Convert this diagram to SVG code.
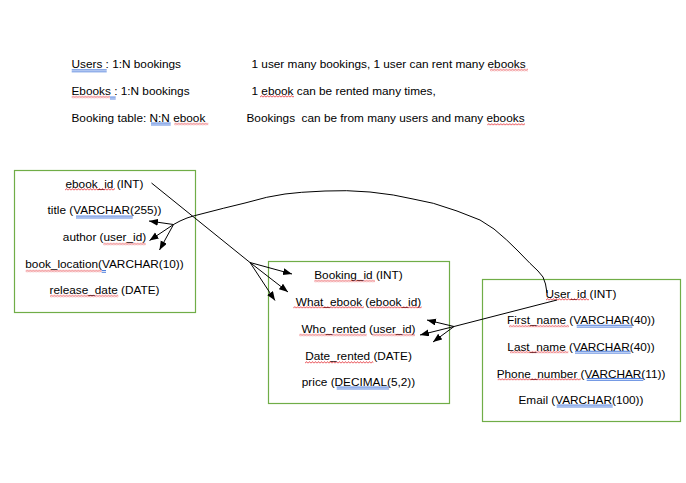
<svg xmlns="http://www.w3.org/2000/svg" width="686" height="483" viewBox="0 0 686 483">
<style>
text{font-family:"Liberation Sans",Arial,sans-serif;font-size:11.8px;fill:#000}
.c{text-anchor:middle}
.box{fill:none;stroke:#70AD47;stroke-width:1.2}
.ln{fill:none;stroke:#000;stroke-width:1}
.ar{marker-end:url(#ah)}
.w{fill:url(#wv)}
.d{fill:url(#db)}
</style>
<defs>
<marker id="ah" markerUnits="userSpaceOnUse" markerWidth="10" markerHeight="8" refX="9" refY="3.5" orient="auto">
<path d="M0,0 L9,3.5 L0,7 Z" fill="#000"/>
</marker>
<pattern id="wv" patternUnits="userSpaceOnUse" width="3" height="3">
<path d="M0,2.4 L1.5,0.6 L3,2.4" fill="none" stroke="#E3242B" stroke-width="0.8"/>
</pattern>
<pattern id="db" patternUnits="userSpaceOnUse" width="4" height="3">
<rect x="0" y="0" width="4" height="0.9" fill="#3A6FD8"/>
<rect x="0" y="1.8" width="4" height="0.9" fill="#3A6FD8"/>
</pattern>
</defs>

<g id="header">
<text x="71.5" y="68">Users : 1:N bookings</text>
<text x="251.5" y="68">1 user many bookings, 1 user can rent many ebooks</text>
<text x="71.5" y="95">Ebooks : 1:N bookings</text>
<text x="251.5" y="95">1 ebook can be rented many times,</text>
<text x="71.5" y="122">Booking table: N:N ebook</text>
<text x="246.5" y="122" xml:space="preserve">Bookings  can be from many users and many ebooks</text>
<rect class="d" transform="translate(71.7 69.3)" width="35" height="3"/>
<rect class="w" transform="translate(490 68.5)" width="38" height="3"/>
<rect class="w" transform="translate(71.7 95.5)" width="38.3" height="3"/>
<rect class="d" transform="translate(110 96.5)" width="5.7" height="3"/>
<rect class="w" transform="translate(260 95)" width="34" height="3"/>
<rect class="d" transform="translate(151 122.5)" width="19.7" height="3"/>
<rect class="w" transform="translate(174.3 122.5)" width="34" height="3"/>
<rect class="w" transform="translate(487.3 123)" width="37.7" height="3"/>
</g>

<g id="ebooks">
<rect class="box" x="14.5" y="170.5" width="181" height="142"/>
<text class="c" x="104.5" y="187.5">ebook_id (INT)</text>
<text class="c" x="104.5" y="214">title (VARCHAR(255))</text>
<text class="c" x="104.5" y="240.5">author (user_id)</text>
<text class="c" x="104.5" y="267.5">book_location(VARCHAR(10))</text>
<text class="c" x="104.5" y="293.5">release_date (DATE)</text>
<rect class="w" transform="translate(65 188)" width="50" height="3"/>
<rect class="d" transform="translate(76 215.5)" width="56.7" height="3"/>
<rect class="w" transform="translate(103.3 242.5)" width="42.4" height="3"/>
<rect class="w" transform="translate(25.7 269.5)" width="76" height="3"/>
<rect class="d" transform="translate(101.7 270)" width="4.3" height="3"/>
<rect class="w" transform="translate(50 294.5)" width="68.3" height="3"/>
</g>

<g id="bookings">
<rect class="box" x="268.5" y="261.5" width="181" height="142"/>
<text class="c" x="358.5" y="279">Booking_id (INT)</text>
<text class="c" x="358.5" y="305.5">What_ebook (ebook_id)</text>
<text class="c" x="358.5" y="333">Who_rented (user_id)</text>
<text class="c" x="358.5" y="360">Date_rented (DATE)</text>
<text class="c" x="358.5" y="386">price (DECIMAL(5,2))</text>
<rect class="w" transform="translate(314.3 279.5)" width="60.7" height="3"/>
<rect class="w" transform="translate(293.3 306)" width="70.7" height="3"/>
<rect class="w" transform="translate(369.3 306)" width="52.4" height="3"/>
<rect class="w" transform="translate(299.3 333.5)" width="67.4" height="3"/>
<rect class="w" transform="translate(372.3 333.5)" width="42.7" height="3"/>
<rect class="w" transform="translate(305 361)" width="68.3" height="3"/>
<rect class="d" transform="translate(336.7 386.5)" width="52.3" height="3"/>
</g>

<g id="users">
<rect class="box" x="482.5" y="279.5" width="198" height="142"/>
<text class="c" x="581" y="297.5">User_id (INT)</text>
<text class="c" x="581" y="324">First_name (VARCHAR(40))</text>
<text class="c" x="581" y="350.5">Last_name (VARCHAR(40))</text>
<text class="c" x="581" y="377.5">Phone_number (VARCHAR(11))</text>
<text class="c" x="581" y="404">Email (VARCHAR(100))</text>
<rect class="w" transform="translate(546 298)" width="43" height="3"/>
<rect class="w" transform="translate(509 324.7)" width="60" height="3"/>
<rect class="d" transform="translate(576.7 324.7)" width="55.6" height="3"/>
<rect class="w" transform="translate(510 350.7)" width="58.3" height="3"/>
<rect class="d" transform="translate(575 350.7)" width="55.7" height="3"/>
<rect class="w" transform="translate(497.7 378)" width="83" height="3"/>
<rect class="d" transform="translate(586.7 378)" width="56.6" height="3"/>
<rect class="d" transform="translate(556.7 404.5)" width="56" height="3"/>
</g>

<g id="connectors">
<polyline class="ln" points="151.5,183 250,262.5"/>
<line class="ln ar" x1="250" y1="262.5" x2="292" y2="274"/>
<line class="ln ar" x1="250" y1="262.5" x2="288" y2="292"/>
<line class="ln ar" x1="250" y1="262.5" x2="275" y2="300.5"/>

<polyline class="ln" points="547,293 545.5,284 543,277 538,271 530,263.3 518,251 506.7,240 494,229 480,220 457,211 433.3,203.3 413,199 393.3,195 370,192 346.7,190.7 325,191 301.7,192.3 285,194 266.7,197.3 245,203 223.3,208.3 205,213 193.3,216 187,218 180,221 173.5,224.5"/>
<line class="ln ar" x1="173.5" y1="224.5" x2="149" y2="221"/>
<line class="ln ar" x1="173.5" y1="224.5" x2="149.5" y2="240.5"/>
<line class="ln ar" x1="173.5" y1="224.5" x2="159.5" y2="250"/>

<line class="ln" x1="557" y1="300" x2="454" y2="326.5"/>
<line class="ln ar" x1="454" y1="326.5" x2="427" y2="320"/>
<line class="ln ar" x1="454" y1="326.5" x2="420" y2="335"/>
<line class="ln ar" x1="454" y1="326.5" x2="433" y2="342"/>
</g>
</svg>
